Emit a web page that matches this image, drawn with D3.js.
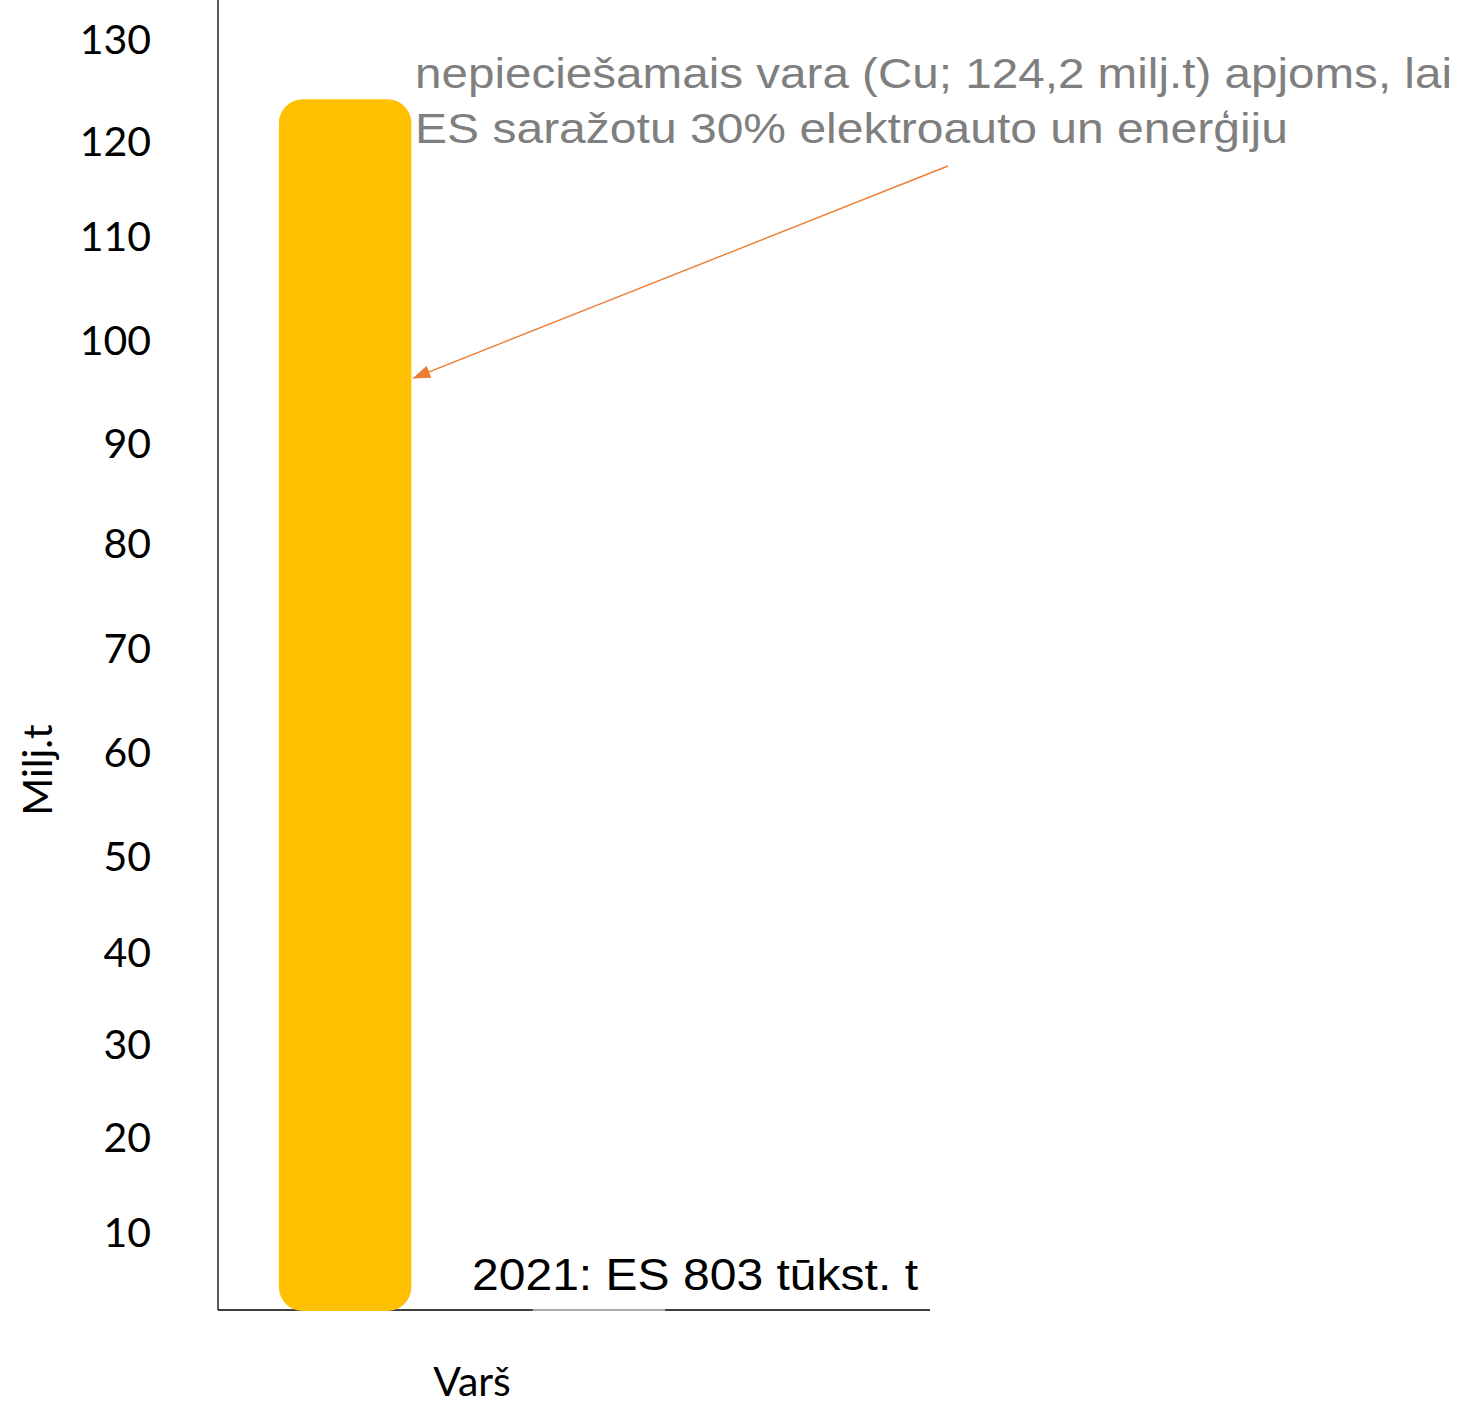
<!DOCTYPE html>
<html>
<head>
<meta charset="utf-8">
<script src="https://cdn.jsdelivr.net/npm/d3@7"></script>
<style>
  html, body { margin: 0; padding: 0; background: #fff; }
  svg { display: block; }
</style>
</head>
<body>
<svg id="chart" width="1473" height="1404"></svg>
<script>
// Copper demand vs. current EU production (million tonnes)
const categories = ["Varš"];
const seriesNames = ["nepieciešamais", "ES 2021"];
const seriesValues = [124.2, 0.803];
const yTickValues = [10, 20, 30, 40, 50, 60, 70, 80, 90, 100, 110, 120, 130];
const yTitle = "Milj.t";
const noteNeeded = ["nepiecie\u0161amais vara (Cu; 124,2 milj.t) apjoms, lai",
                    "ES sara\u017eotu 30% elektroauto un ener\u0123iju"];
const noteActual = "2021: ES 803 t\u016bkst. t";

const svg = d3.select("#chart");

// Vertical scale: rows of the value axis as laid out on the slide
const yDomain = [0].concat(yTickValues);
const yRows = [1310, 1233, 1138, 1045, 953, 857, 753, 649, 544, 444, 341, 237, 142, 40];
const y = d3.scaleLinear().domain(yDomain).range(yRows);

const plotLeft = 218, plotRight = 930;
const x0 = d3.scaleBand().domain(categories).range([plotLeft, 726]);
const x1 = d3.scaleBand().domain(seriesNames)
  .range([0, x0.bandwidth()]).paddingInner(0.478).paddingOuter(0.24);

// Value axis labels
const yAxis = d3.axisLeft(y).tickValues(yTickValues).tickSize(0).tickPadding(67);
const gy = svg.append("g").attr("transform", `translate(${plotLeft},0)`).call(yAxis);
gy.select(".domain").remove();
gy.selectAll("text")
  .attr("font-family", "Lato, 'Open Sans', sans-serif")
  .attr("font-size", 41)
  .attr("fill", "#000");

// Axis lines
svg.append("line")
  .attr("x1", plotLeft).attr("x2", plotLeft)
  .attr("y1", 0).attr("y2", y(0))
  .attr("stroke", "#000").attr("stroke-width", 1.3);
svg.append("line")
  .attr("x1", plotLeft).attr("x2", plotRight)
  .attr("y1", y(0)).attr("y2", y(0))
  .attr("stroke", "#000").attr("stroke-width", 1.6);

// Bars
const bars = seriesNames.map((s, i) => ({ series: s, value: seriesValues[i], cat: categories[0] }));
const barColor = { "nepieciešamais": "#FFC000", "ES 2021": "#ffffff" };
svg.append("g").selectAll("rect")
  .data(bars)
  .join("rect")
  .attr("x", d => x0(d.cat) + x1(d.series))
  .attr("width", x1.bandwidth())
  .attr("y", d => y(d.value))
  .attr("height", d => y(0) - y(d.value) + 1)
  .attr("rx", d => d.value > 10 ? 24 : 0)
  .attr("fill", d => barColor[d.series])
  .attr("fill-opacity", d => d.value > 10 ? 1 : 0.55);

// Category label
svg.append("text")
  .attr("x", x0(categories[0]) + x0.bandwidth() / 2)
  .attr("y", 1396)
  .attr("text-anchor", "middle")
  .attr("font-family", "Lato, 'Open Sans', sans-serif")
  .attr("font-size", 41)
  .text(categories[0]);

// Value axis title
svg.append("text")
  .attr("transform", `translate(52,${770}) rotate(-90)`)
  .attr("text-anchor", "middle")
  .attr("font-family", "Lato, 'Open Sans', sans-serif")
  .attr("font-size", 41)
  .text(yTitle);

// Annotation for the required amount
const noteWidths = [1037, 873];
const note = svg.append("text")
  .attr("font-family", "'Liberation Sans', Arial, sans-serif")
  .attr("font-size", 42)
  .attr("fill", "#7f7f7f");
note.selectAll("tspan")
  .data(noteNeeded)
  .join("tspan")
  .attr("x", 415)
  .attr("y", (d, i) => 88 + i * 55)
  .attr("textLength", (d, i) => noteWidths[i])
  .attr("lengthAdjust", "spacingAndGlyphs")
  .text(d => d);

// Arrow pointing at the bar
svg.append("defs").append("marker")
  .attr("id", "arrowHead")
  .attr("viewBox", "0 0 18 13")
  .attr("refX", 17).attr("refY", 6.5)
  .attr("markerWidth", 18).attr("markerHeight", 13)
  .attr("markerUnits", "userSpaceOnUse")
  .attr("orient", "auto")
  .append("path")
  .attr("d", "M0,0 L18,6.5 L0,13 Z")
  .attr("fill", "#ED7D31");

const barRight = x0(categories[0]) + x1(seriesNames[0]) + x1.bandwidth();
svg.append("line")
  .attr("x1", 948).attr("y1", 166)
  .attr("x2", barRight + 2).attr("y2", y(96.4))
  .attr("stroke", "#ED7D31").attr("stroke-width", 1.4)
  .attr("marker-end", "url(#arrowHead)");

// Annotation for current production
svg.append("text")
  .attr("x", 472).attr("y", 1290)
  .attr("font-family", "'Liberation Sans', Arial, sans-serif")
  .attr("font-size", 45)
  .attr("textLength", 446)
  .attr("lengthAdjust", "spacingAndGlyphs")
  .attr("fill", "#000")
  .text(noteActual);
</script>
</body>
</html>
